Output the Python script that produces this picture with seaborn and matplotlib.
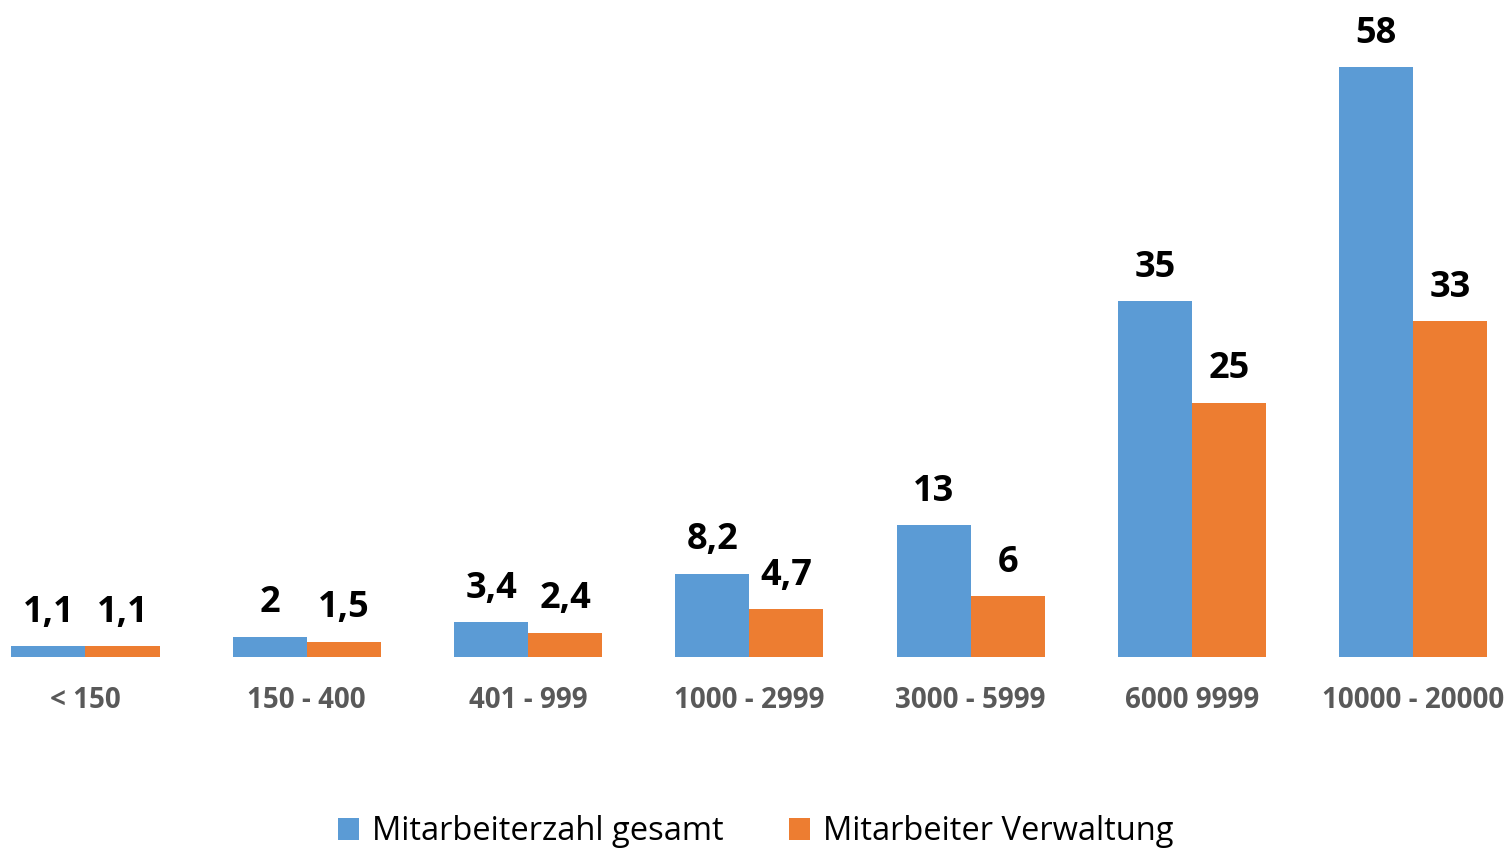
import pandas as pd
import matplotlib.pyplot as plt
import seaborn as sns

# Data
categories = ['< 150', '150 - 400', '401 - 999', '1000 - 2999', '3000 - 5999', '6000 9999', '10000 - 20000']
gesamt = [1.1, 2, 3.4, 8.2, 13, 35, 58]
verwaltung = [1.1, 1.5, 2.4, 4.7, 6, 25, 33]
series_names = ['Mitarbeiterzahl gesamt', 'Mitarbeiter Verwaltung']
colors = ['#5B9BD5', '#ED7D31']

sns.set_theme(style='white')
plt.rcParams['font.family'] = ['Open Sans', 'DejaVu Sans']

df = pd.DataFrame({
    'Kategorie': categories * 2,
    'Wert': gesamt + verwaltung,
    'Serie': [series_names[0]] * len(categories) + [series_names[1]] * len(categories),
})

W, H = 1510, 848
fig = plt.figure(figsize=(W / 100, H / 100), dpi=100)
ax = fig.add_axes([0, 1 - 657 / H, 1, 657 / H])

sns.barplot(data=df, x='Kategorie', y='Wert', hue='Serie', palette=colors,
            width=0.669, gap=0, saturation=1, linewidth=0, ax=ax, legend=True)

ax.set_xlim((0 - 85.5) / 221.3, (W - 85.5) / 221.3)
ax.set_ylim(0, 657 / 10.17)

def fmt(v):
    return f'{v:g}'.replace('.', ',')

for cont in ax.containers:
    ax.bar_label(cont, labels=[fmt(b.get_height()) for b in cont],
                 padding=11, fontsize=26, fontweight='bold', color='black')

for s in ax.spines.values():
    s.set_visible(False)
ax.set_yticks([])
ax.set_xlabel('')
ax.set_ylabel('')
ax.tick_params(axis='x', length=0, pad=21, labelsize=20, labelcolor='#595959')
for t in ax.get_xticklabels():
    t.set_fontweight('bold')

handles, labels = ax.get_legend_handles_labels()
ax.legend(handles, labels, loc='center', bbox_to_anchor=(756 / W, 1 - 832 / H),
          bbox_transform=fig.transFigure, ncol=2, frameon=False, fontsize=23.5,
          handlelength=0.65, handleheight=0.65, handletextpad=0.4,
          columnspacing=2.0, borderpad=0, labelcolor='black')

fig.savefig('out.png', dpi=100)
